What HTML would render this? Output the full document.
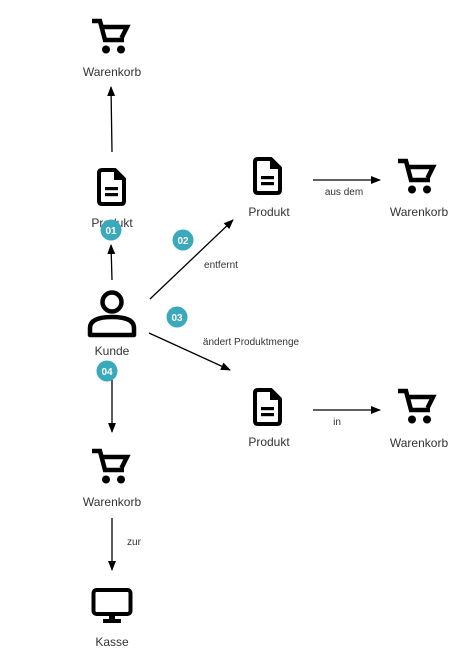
<!DOCTYPE html>
<html><head><meta charset="utf-8"><style>
html,body{margin:0;padding:0;background:#fff;}
svg{display:block;}
text{font-family:"Liberation Sans",sans-serif;fill:#333;}
</style></head><body>
<svg width="475" height="655" viewBox="0 0 475 655" xmlns="http://www.w3.org/2000/svg">
<defs>
<marker id="ar" markerWidth="10" markerHeight="10" refX="9" refY="5" orient="auto" markerUnits="userSpaceOnUse">
<path d="M0,1 L10,5 L0,9 Z" fill="#000"/></marker>
<g id="cart">
<path d="M0 4 H8 L13 23 H32" fill="none" stroke="#000" stroke-width="4.5" stroke-linejoin="miter"/>
<path d="M9 10 H35 L29.5 21" fill="none" stroke="#000" stroke-width="4.5"/>
<circle cx="14" cy="32.5" r="4" fill="#000"/><circle cx="29" cy="32.5" r="4" fill="#000"/>
</g>
<g id="doc">
<path d="M5 2 H18 L27 11 V33 Q27 36 24 36 H5 Q2 36 2 33 V5 Q2 2 5 2 Z" fill="none" stroke="#000" stroke-width="4" stroke-linejoin="round"/>
<path d="M17 1 L28 12 H17 Z" fill="#000"/>
<rect x="8" y="19" width="13" height="3.2" fill="#000"/>
<rect x="8" y="25" width="13" height="3.2" fill="#000"/>
</g>
</defs>

<use href="#cart" x="92" y="17"/>
<text x="112" y="76" font-size="12" text-anchor="middle">Warenkorb</text>
<line x1="112" y1="152" x2="111" y2="87" stroke="#000" stroke-width="1.3" marker-end="url(#ar)"/>

<use href="#doc" x="97" y="168"/>
<text x="112" y="227" font-size="12" text-anchor="middle">Produkt</text>
<line x1="112" y1="280" x2="111" y2="245" stroke="#000" stroke-width="1.3" marker-end="url(#ar)"/>
<circle cx="111" cy="230" r="10.5" fill="#3aa9bb"/>
<text x="111" y="234" font-size="10" font-weight="bold" text-anchor="middle" style="fill:#fff">01</text>

<circle cx="112" cy="302" r="9.5" fill="none" stroke="#000" stroke-width="4.5"/>
<path d="M90 335 V328 Q90 317 112 317 Q134 317 134 328 V335 Z" fill="none" stroke="#000" stroke-width="4.5" stroke-linejoin="round"/>
<text x="112" y="355" font-size="12" text-anchor="middle">Kunde</text>

<line x1="150" y1="299" x2="233" y2="220" stroke="#000" stroke-width="1.3" marker-end="url(#ar)"/>
<circle cx="183" cy="240" r="10.5" fill="#3aa9bb"/>
<text x="183" y="244" font-size="10" font-weight="bold" text-anchor="middle" style="fill:#fff">02</text>
<text x="221" y="268" font-size="10" text-anchor="middle">entfernt</text>

<line x1="149" y1="333" x2="230" y2="370" stroke="#000" stroke-width="1.3" marker-end="url(#ar)"/>
<circle cx="177" cy="317" r="10.5" fill="#3aa9bb"/>
<text x="177" y="321" font-size="10" font-weight="bold" text-anchor="middle" style="fill:#fff">03</text>
<text x="251" y="345" font-size="10" text-anchor="middle">ändert Produktmenge</text>

<use href="#doc" x="253" y="157"/>
<text x="269" y="216" font-size="12" text-anchor="middle">Produkt</text>
<line x1="313" y1="180" x2="380" y2="180" stroke="#000" stroke-width="1.3" marker-end="url(#ar)"/>
<text x="344" y="195" font-size="10" text-anchor="middle">aus dem</text>
<use href="#cart" x="398" y="157"/>
<text x="419" y="216" font-size="12" text-anchor="middle">Warenkorb</text>

<use href="#doc" x="253" y="388"/>
<text x="269" y="446" font-size="12" text-anchor="middle">Produkt</text>
<line x1="313" y1="410" x2="380" y2="410" stroke="#000" stroke-width="1.3" marker-end="url(#ar)"/>
<text x="337" y="425" font-size="10" text-anchor="middle">in</text>
<use href="#cart" x="398" y="387"/>
<text x="419" y="447" font-size="12" text-anchor="middle">Warenkorb</text>

<line x1="112" y1="380" x2="112" y2="432" stroke="#000" stroke-width="1.3" marker-end="url(#ar)"/>
<circle cx="107" cy="371" r="10.5" fill="#3aa9bb"/>
<text x="107" y="375" font-size="10" font-weight="bold" text-anchor="middle" style="fill:#fff">04</text>
<use href="#cart" x="92" y="447"/>
<text x="112" y="506" font-size="12" text-anchor="middle">Warenkorb</text>
<line x1="112" y1="518" x2="112" y2="570" stroke="#000" stroke-width="1.3" marker-end="url(#ar)"/>
<text x="134" y="545" font-size="10" text-anchor="middle">zur</text>

<rect x="93.5" y="590" width="37" height="24" rx="3" fill="none" stroke="#000" stroke-width="4"/>
<rect x="109" y="615" width="6" height="5" fill="#000"/>
<rect x="103" y="619" width="18" height="4" fill="#000"/>
<text x="112" y="646" font-size="12" text-anchor="middle">Kasse</text>
</svg>
</body></html>
